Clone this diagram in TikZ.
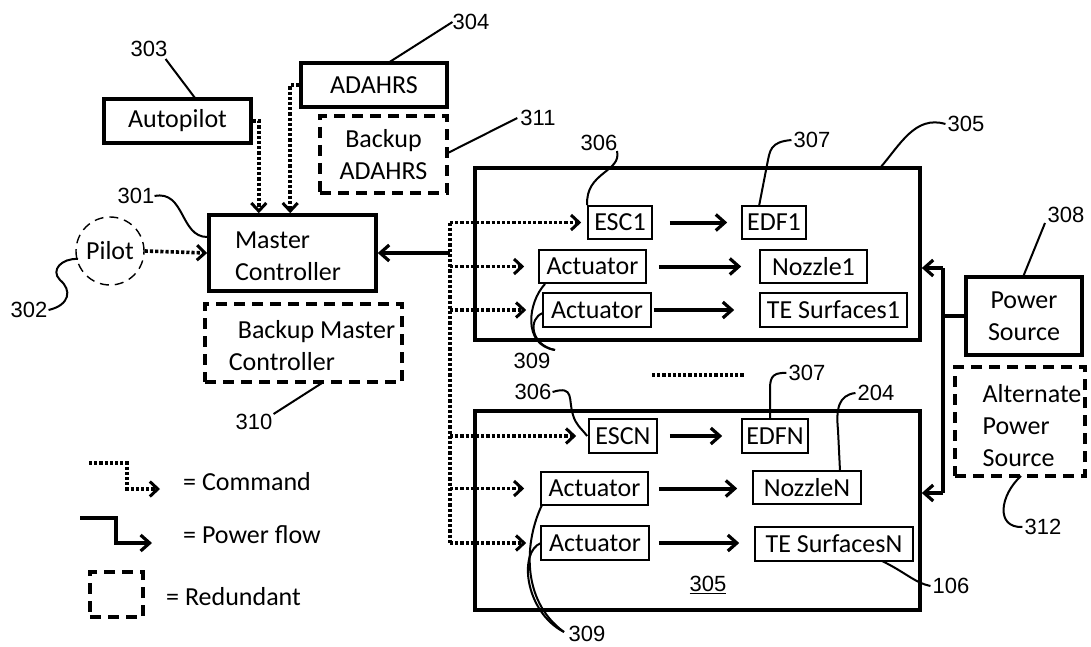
\documentclass[tikz,border=0pt]{standalone}
\usepackage{fontspec}
\setmainfont{Carlito}
\newfontfamily\numfont{Liberation Sans}
\usetikzlibrary{arrows.meta}
\tikzset{
  txt/.style={inner sep=0pt, font=\fontsize{26}{32}\selectfont, align=center},
  tb/.style={draw, line width=3.6pt, inner sep=0pt, font=\fontsize{26}{32}\selectfont, align=center},
  sb/.style={draw, line width=1.6pt, inner sep=0pt, font=\fontsize{26}{30}\selectfont},
  db/.style={draw, line width=3.6pt, dash pattern=on 11pt off 7pt, inner sep=0pt, font=\fontsize{26}{32}\selectfont, align=center},
  num/.style={font=\numfont\fontsize{22}{24}\selectfont, inner sep=0pt},
  lead/.style={line width=2pt},
  cmdline/.style={line width=3.6pt, dash pattern=on 3.2pt off 2pt},
  cmd/.style={cmdline, -{Straight Barb[length=8pt,width=15pt,line width=3pt]}},
  pwrline/.style={line width=4pt},
  pwr/.style={pwrline, -{Straight Barb[length=9pt,width=16pt,line width=3.2pt]}},
}
\begin{document}
\begin{tikzpicture}[x=1pt,y=-1pt]
\useasboundingbox (0,0) rectangle (1091,647);

% upper left blocks
\node[tb, minimum width=147pt, minimum height=44pt] (ap) at (177.5,121) {Autopilot};
\node[tb, minimum width=146pt, minimum height=44pt] (adahrs) at (374,85) {ADAHRS};
\node[db, minimum width=127pt, minimum height=77pt] (badahrs) at (383.5,154.5) {Backup\\ADAHRS};
\node[tb, minimum width=167pt, minimum height=76pt] (mc) at (292.5,253) {};
\node[txt, align=left] (mctext) at (288,256) {Master\\Controller};
\node[db, minimum width=197pt, minimum height=78pt] (bmc) at (303.5,343) {};
\node[txt, align=left] (bmctext) at (312,346) {\hspace*{9pt}Backup Master\\Controller};
\node[circle, draw, line width=1.4pt, dash pattern=on 9pt off 6pt, minimum size=68pt, inner sep=0pt, font=\fontsize{26}{30}\selectfont] (pilot) at (110,251) {Pilot};

% big boxes
\node[tb, minimum width=445pt, minimum height=172pt] (box1) at (697.5,254) {};
\node[tb, minimum width=445pt, minimum height=199pt] (box2) at (697.5,510.5) {};

% inner boxes, upper
\node[sb, minimum width=64pt, minimum height=33pt] (esc1) at (620,222.5) {ESC1};
\node[sb, minimum width=64pt, minimum height=33pt] (edf1) at (774,222.5) {EDF1};
\node[sb, minimum width=107pt, minimum height=33pt] (act1) at (592.5,266.5) {Actuator};
\node[sb, minimum width=107pt, minimum height=33pt] (noz1) at (813.5,266.5) {Nozzle1};
\node[sb, minimum width=108pt, minimum height=34pt] (act2) at (597,310) {Actuator};
\node[sb, minimum width=147pt, minimum height=34pt] (te1) at (833.5,310) {TE Surfaces1};

% inner boxes, lower
\node[sb, minimum width=68pt, minimum height=34pt] (escn) at (623,436) {ESCN};
\node[sb, minimum width=66pt, minimum height=34pt] (edfn) at (775,436) {EDFN};
\node[sb, minimum width=107pt, minimum height=33pt] (actn1) at (594.5,488.5) {Actuator};
\node[sb, minimum width=108pt, minimum height=33pt] (nozn) at (807,487.5) {NozzleN};
\node[sb, minimum width=108pt, minimum height=34pt] (actn2) at (595,543) {Actuator};
\node[sb, minimum width=158pt, minimum height=34pt] (ten) at (834,544) {TE SurfacesN};
\node[num] (n305b) at (708,585) {\underline{305}};

% power sources
\node[tb, minimum width=116pt, minimum height=78pt] (ps) at (1024,316) {Power\\Source};
\node[db, minimum width=130pt, minimum height=109pt] (aps) at (1020,421.5) {};
\node[txt, align=left] (apstext) at (1032,426) {Alternate\\Power\\Source};

% command connectors
\draw[cmd] (ap.east) -- ++(6,0) coordinate (apc) -- (apc |- mc.north);
\draw[cmd] (adahrs.west) -- ++(-9,0) coordinate (adc) -- (adc |- mc.north);
\draw[cmd] (pilot.east) -- (mc.west);
\coordinate (bx) at (450,0);
\draw[pwr] (bx |- mc.east) -- (mc.east);
\draw[cmdline] (bx |- esc1.west) -- (bx |- actn2.west);
\draw[cmd, shorten >=6pt] (bx |- esc1.west) -- (esc1.west);
\draw[cmd, shorten >=14pt] (bx |- act1.west) -- (act1.west);
\draw[cmd, shorten >=16pt] (bx |- act2.west) -- (act2.west);
\draw[cmd, shorten >=12pt] (bx |- escn.west) -- (escn.west);
\draw[cmd, shorten >=16pt] (bx |- actn1.west) -- (actn1.west);
\draw[cmd, shorten >=14pt] (bx |- actn2.west) -- (actn2.west);

% power flow inside
\draw[pwr] ([xshift=17pt]esc1.east) -- ([xshift=-14pt]edf1.west);
\draw[pwr] ([xshift=12pt]act1.east) -- ([xshift=-18pt]noz1.west);
\draw[pwr] ([xshift=2pt]act2.east) -- ([xshift=-25pt]te1.west);
\draw[pwr] ([xshift=12pt]escn.east) -- ([xshift=-19pt]edfn.west);
\draw[pwr] ([xshift=10pt]actn1.east) -- ([xshift=-15pt]actn1.east -| nozn.west);
\draw[pwr] ([xshift=9pt]actn2.east) -- ([xshift=-15pt]actn2.east -| ten.west);

% power supply
\coordinate (p1) at (943,268);
\coordinate (p2) at (943,493);
\draw[pwrline] (p1) -- (p2);
\draw[pwrline] (ps.west) -- (ps.west -| p1);
\draw[pwr] (p1) -- (p1 -| box1.east);
\draw[pwr] (p2) -- (p2 -| box2.east);

% ellipsis between the two boxes
\coordinate (dl) at (652,375);
\coordinate (dr) at (745,375);
\draw[cmdline] (dl) -- (dr);

% reference numerals
\node[num] (n303) at (149,49) {303};
\draw[lead] (n303.south east) ++(-2,2) -- (195,98);
\node[num] (n304) at (471,22) {304};
\draw[lead] (388,63) -- (n304.west);
\node[num] (n311) at (538,118) {311};
\draw[lead] (badahrs.east) ++(0,-2) -- ([xshift=-3pt]n311.west);
\node[num] (n301) at (136,196) {301};
\draw[lead] (n301.east) .. controls (185,190) and (180,237) .. (mc.west |- 0,237);
\node[num] (n302) at (29,310) {302};
\draw[lead] ([xshift=1pt]n302.east) .. controls (70,305) and (72,290) .. (60,280) .. controls (50,270) and (62,258) .. (78,259);
\node[num] (n310) at (254,422) {310};
\draw[lead] ([xshift=1pt]n310.north east) -- (322,383);
\node[num] (n306a) at (599,143) {306};
\draw[lead] (617,151) .. controls (622,172) and (585,172) .. (esc1.north west);
\node[num] (n307a) at (812,140) {307};
\draw[lead] ([xshift=-2pt]n307a.west) .. controls (770,142) and (770,150) .. (767,165) -- ([xshift=18pt]edf1.north west);
\node[num] (n305a) at (966,124) {305};
\draw[lead] ([xshift=-2pt]n305a.west) .. controls (915,115) and (900,145) .. (880,168);
\node[num] (n308) at (1066,215) {308};
\draw[lead] (1045,223) -- (1023,277);
\node[num] (n312) at (1043,527) {312};
\draw[lead] ([xshift=-2pt]n312.west) .. controls (995,528) and (1000,495) .. (1021,476);
\node[num] (n307b) at (807,373) {307};
\draw[lead] ([xshift=-2pt]n307b.west) .. controls (770,372) and (770,380) .. (770,392) -- (770,419);
\node[num] (n204) at (876,393) {204};
\draw[lead] ([xshift=-2pt]n204.west) .. controls (838,395) and (836,410) .. (838,430) -- (840,471);
\node[num] (n106) at (951,586) {106};
\draw[lead] ([xshift=-2pt]n106.west) .. controls (915,583) and (905,572) .. (882,561);
\node[num] (n306b) at (533,392) {306};
\draw[lead] ([xshift=1pt]n306b.east) .. controls (575,385) and (568,400) .. (573,415) .. controls (576,425) and (580,427) .. (esc1.west |- escn.west);
\node[num] (n309a) at (532,361) {309};
\coordinate (j309a) at (555,350);
\draw[lead] (545,284) .. controls (528,302) and (522,345) .. (j309a);
\draw[lead] (543,313) .. controls (528,318) and (530,345) .. (j309a);
\node[num] (n309b) at (587,634) {309};
\coordinate (j309b) at (564,632);
\draw[lead] (542,505) .. controls (525,540) and (520,600) .. (j309b);
\draw[lead] (541,543) .. controls (518,552) and (525,612) .. (j309b);

% legend
\coordinate (lc1) at (89,463);
\coordinate (lc2) at (127,463);
\coordinate (lc3) at (127,489);
\coordinate (lc4) at (160,489);
\draw[cmd] (lc1) -- (lc2) -- (lc3) -- (lc4);
\node[txt, anchor=west] (lcmd) at (183,482) {= Command};
\coordinate (lp1) at (80,518);
\coordinate (lp2) at (116,518);
\coordinate (lp3) at (116,543);
\coordinate (lp4) at (152,543);
\draw[pwr] (lp1) -- (lp2) -- (lp3) -- (lp4);
\node[txt, anchor=west] (lpwr) at (183,535) {= Power flow};
\node[db, minimum width=53pt, minimum height=45pt] (lred) at (116.5,594.5) {};
\node[txt, anchor=west] (lredt) at (166,597) {= Redundant};
\end{tikzpicture}
\end{document}
